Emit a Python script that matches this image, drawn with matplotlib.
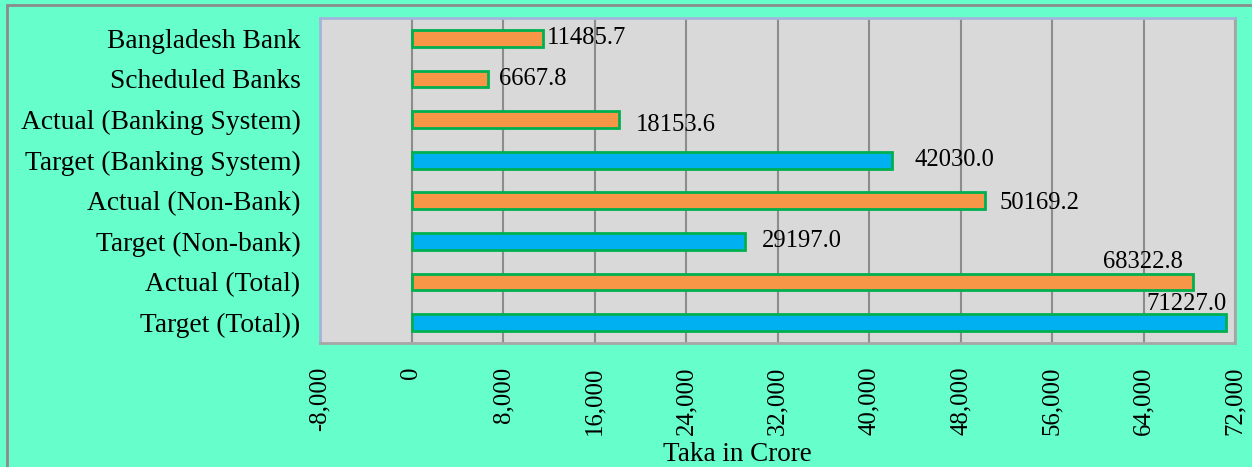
import matplotlib.pyplot as plt
from matplotlib.patches import Rectangle
from matplotlib.ticker import FuncFormatter, MultipleLocator

plt.rcParams['font.family'] = ['Liberation Serif', 'DejaVu Serif']

categories = ['Bangladesh Bank',
              'Scheduled Banks',
              'Actual (Banking System)',
              'Target (Banking System)',
              'Actual (Non-Bank)',
              'Target (Non-bank)',
              'Actual (Total)',
              'Target (Total))']
values = [11485.7, 6667.8, 18153.6, 42030.0, 50169.2, 29197.0, 68322.8, 71227.0]
kinds = ['Actual', 'Actual', 'Actual', 'Target', 'Actual', 'Target', 'Actual', 'Target']

colors = {'Actual': '#F79646', 'Target': '#00B0F0'}
# label offsets in pixels (dx, dy, ha) - placed by hand like the original
label_pos = [(4, 0, 'left'), (11, 0, 'left'), (17, -5, 'left'), (22, 0, 'left'),
             (14, -2, 'left'), (16, 0, 'left'), (-10, 20, 'right'), (0, 19, 'right')]

fig = plt.figure(figsize=(12.52, 4.67), dpi=100, facecolor='#66FFCC')
ax = fig.add_axes([320 / 1252, 124 / 467, 915 / 1252, 325 / 467])
ax.set_facecolor('#D9D9D9')

# outer chart border (only top/left visible in the original)
fig.patches.append(Rectangle((7 / 1252, -0.1), 1.2, 1.1 - 5 / 467,
                             transform=fig.transFigure, fill=False,
                             edgecolor='#8C8C8C', linewidth=2))

y = range(len(categories))
ax.barh(y, values, height=0.41, color=[colors[k] for k in kinds],
        edgecolor='#00B050', linewidth=2, zorder=3)

for i, v in enumerate(values):
    dx, dy, ha = label_pos[i]
    ax.annotate(f'{v:.1f}', (v, i), xytext=(dx, dy), textcoords='offset pixels',
                ha=ha, va='center', fontsize=17.7, zorder=4)

ax.set_xlim(-8000, 72000)
ax.set_ylim(len(categories) - 0.5, -0.5)
ax.xaxis.set_major_locator(MultipleLocator(8000))
ax.xaxis.set_major_formatter(FuncFormatter(lambda x, p: f'{x:,.0f}'))
ax.grid(axis='x', color='#8C8C8C', linewidth=1.5, zorder=1)
ax.set_axisbelow(True)

ax.set_yticks(list(y))
ax.set_yticklabels(categories, fontsize=19.8)
ax.tick_params(axis='y', length=0, pad=14)
ax.tick_params(axis='x', length=0, pad=17, labelsize=17.8, labelrotation=90)

ax.set_xlabel('Taka in Crore', fontsize=19.5)
ax.xaxis.set_label_coords(0.456, -0.305)

for side in ['left', 'top']:
    ax.spines[side].set_color('#A3B4DA')
    ax.spines[side].set_linewidth(2)
for side in ['right', 'bottom']:
    ax.spines[side].set_color('#A6A6A6')
    ax.spines[side].set_linewidth(2)

fig.savefig('out.png', dpi=100, facecolor=fig.get_facecolor())
